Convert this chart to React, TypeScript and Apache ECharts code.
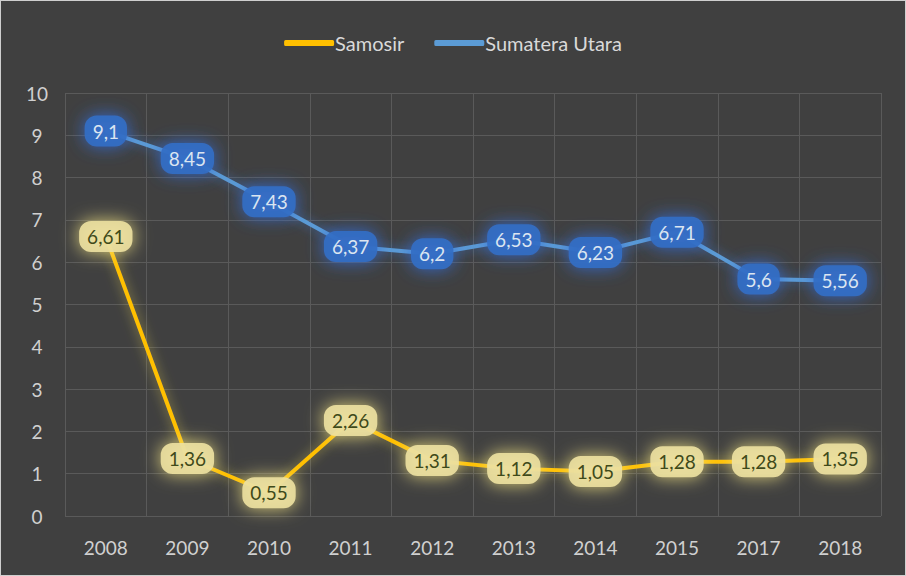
import React, { useEffect, useRef } from "react";
import * as echarts from "echarts";

const years = ["2008", "2009", "2010", "2011", "2012", "2013", "2014", "2015", "2017", "2018"];
const samosir = [6.61, 1.36, 0.55, 2.26, 1.31, 1.12, 1.05, 1.28, 1.28, 1.35];
const sumut = [9.1, 8.45, 7.43, 6.37, 6.2, 6.53, 6.23, 6.71, 5.6, 5.56];
const yTicks = { min: 0, max: 10, interval: 1 };

const FONT = "Lato, 'Noto Sans', sans-serif";
const fmt = (v: number) => String(v).replace(".", ",");

export default function App() {
  const ref = useRef<HTMLDivElement>(null);
  useEffect(() => {
    document.body.style.margin = "0";
    const chart = echarts.init(ref.current!, undefined, { renderer: "svg" });
    chart.setOption({
      animation: false,
      backgroundColor: "#404040",
      legend: {
        top: 27,
        left: "center",
        itemWidth: 50,
        itemHeight: 6,
        itemGap: 30,
        icon: "roundRect",
        textStyle: { color: "#d9d9d9", fontSize: 20, fontFamily: FONT, padding: [0, 0, 0, -4] },
        data: ["Samosir", "Sumatera Utara"],
      },
      grid: { left: 64, right: 24, top: 92, bottom: 59 },
      xAxis: {
        type: "category",
        data: years,
        boundaryGap: true,
        axisLine: { show: false },
        axisTick: { show: false },
        splitLine: { show: true, lineStyle: { color: "#5a5a5a", width: 1 } },
        axisLabel: { color: "#d0d0d0", fontSize: 19, fontFamily: FONT, margin: 22 },
      },
      yAxis: {
        type: "value",
        min: yTicks.min,
        max: yTicks.max,
        interval: yTicks.interval,
        axisLine: { show: false },
        axisTick: { show: false },
        splitLine: { show: true, lineStyle: { color: "#5a5a5a", width: 1 } },
        axisLabel: { color: "#d0d0d0", fontSize: 19, fontFamily: FONT, margin: 28, align: "center" },
      },
      series: [
        {
          name: "Samosir",
          type: "line",
          data: samosir,
          symbol: "circle",
          symbolSize: 2,
          itemStyle: { color: "#ffc000" },
          lineStyle: {
            color: "#ffc000",
            width: 4,
            shadowColor: "rgba(255, 230, 80, 0.55)",
            shadowBlur: 12,
          },
          label: {
            show: true,
            position: "inside",
            formatter: (p: any) => fmt(p.value),
            color: "#3f4a1a",
            fontSize: 19,
            fontFamily: FONT,
            backgroundColor: "rgba(236, 224, 160, 0.92)",
            borderRadius: 12,
            padding: [7, 8, 5, 8],
            shadowColor: "rgba(240, 225, 130, 0.95)",
            shadowBlur: 18,
          },
          z: 2,
        },
        {
          name: "Sumatera Utara",
          type: "line",
          data: sumut,
          symbol: "circle",
          symbolSize: 2,
          itemStyle: { color: "#5b9bd5" },
          lineStyle: {
            color: "#5b9bd5",
            width: 4,
            shadowColor: "rgba(60, 130, 230, 0.65)",
            shadowBlur: 12,
          },
          label: {
            show: true,
            position: "inside",
            formatter: (p: any) => fmt(p.value),
            color: "#dbe5f1",
            fontSize: 19,
            fontFamily: FONT,
            backgroundColor: "rgba(52, 110, 196, 0.92)",
            borderRadius: 12,
            padding: [7, 8, 5, 8],
            shadowColor: "rgba(50, 110, 220, 0.95)",
            shadowBlur: 18,
          },
          z: 3,
        },
      ],
    });
    return () => chart.dispose();
  }, []);
  return (
    <div
      ref={ref}
      style={{
        position: "fixed",
        left: 0,
        top: 0,
        width: 906,
        height: 576,
        boxSizing: "border-box",
        border: "1px solid #cfcfcf",
      }}
    />
  );
}
